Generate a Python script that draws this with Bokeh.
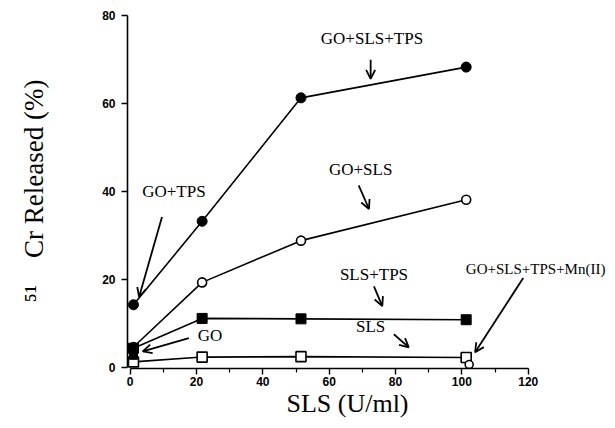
from bokeh.plotting import figure
from bokeh.models import (Range1d, FixedTicker, Label, Arrow, OpenHead, ColumnDataSource)
from bokeh.embed import file_html
from bokeh.resources import INLINE

# ---- data ----
sls_dose = [1, 21.7, 51.5, 101.3]
go_sls_tps = [14.2, 33.2, 61.3, 68.3]
go_sls = [4.6, 19.3, 28.8, 38.1]
sls_tps = [4.3, 11.1, 11.0, 10.8]
sls_only = [1.2, 2.3, 2.4, 2.2]
go_x = [1]
go_y = [2.7]
mn_x = [102.2]
mn_y = [0.6]
x_ticks = [0, 20, 40, 60, 80, 100, 120]
x_minor = [10, 30, 50, 70, 90, 110]
y_ticks = [0, 20, 40, 60, 80]

SERIF = "Liberation Serif"
SANS = "Liberation Sans"

p = figure(width=607, height=420, output_backend="svg", toolbar_location=None,
           x_range=Range1d(-0.8, 143.6), y_range=Range1d(-0.3, 80.5),
           min_border_left=127, min_border_right=1, min_border_top=13,
           min_border_bottom=40)
p.grid.visible = False
p.outline_line_color = None
p.background_fill_color = "white"

for ax in (p.xaxis[0], p.yaxis[0]):
    ax.axis_line_width = 1.6
    ax.axis_line_color = "black"
    ax.major_tick_line_width = 1.4
    ax.minor_tick_line_width = 1.2
    ax.major_tick_out = 6
    ax.major_tick_in = 0
    ax.major_label_text_font = SANS
    ax.major_label_text_font_size = "12px"
    ax.major_label_text_font_style = "bold"
    ax.major_label_text_color = "black"
    ax.axis_label_text_font = SERIF
    ax.axis_label_text_font_style = "normal"
    ax.axis_label_text_color = "black"

p.xaxis.ticker = FixedTicker(ticks=x_ticks, minor_ticks=x_minor)
p.xaxis.bounds = (0, 120)
p.xaxis.minor_tick_out = 4
p.xaxis.minor_tick_in = 0
p.xaxis.major_label_standoff = 2
p.xaxis.axis_label = "SLS (U/ml)" + "\u00a0" * 6
p.xaxis.axis_label_text_font_size = "26px"
p.xaxis.axis_label_standoff = 0

p.yaxis.ticker = FixedTicker(ticks=y_ticks, minor_ticks=[])
p.yaxis.bounds = (0, 80)
p.yaxis.major_label_standoff = 6
p.yaxis.axis_label = "\u2075\u00b9" + "\u00a0" * 4 + "Cr Released (%)"
p.yaxis.axis_label_text_font_size = "27px"
p.yaxis.axis_label_standoff = 50

src = ColumnDataSource(dict(x=sls_dose, a=go_sls_tps, b=go_sls, c=sls_tps, d=sls_only))
LW = 1.6
for col in ("a", "b", "c", "d"):
    p.line("x", col, source=src, line_color="black", line_width=LW)

p.scatter("x", "a", source=src, marker="circle", size=10, fill_color="black", line_color="black")
p.scatter("x", "b", source=src, marker="circle", size=9, fill_color="white", line_color="black", line_width=1.6)
p.scatter("x", "c", source=src, marker="square", size=10, fill_color="black", line_color="black")
p.scatter("x", "d", source=src, marker="square", size=10, fill_color="white", line_color="black", line_width=1.6)
p.scatter(go_x, go_y, marker="square", size=8, fill_color="black", line_color="black")
p.scatter(mn_x, mn_y, marker="circle", size=8, fill_color="white", line_color="black", line_width=1.6)

# ---- annotation texts ----
labels = [
    ("GO+SLS+TPS", 72.9, 74.7, "center", "17px"),
    ("GO+SLS", 69.5, 45.0, "center", "17px"),
    ("GO+TPS", 13.2, 39.9, "center", "17px"),
    ("SLS+TPS", 73.5, 21.2, "center", "17px"),
    ("SLS", 72.5, 9.2, "center", "17px"),
    ("GO", 24.1, 7.2, "center", "17px"),
    ("GO+SLS+TPS+Mn(II)", 101.2, 22.3, "left", "15px"),
]
for t, lx, ly, al, fs in labels:
    p.add_layout(Label(x=lx, y=ly, text=t, text_font=SERIF, text_font_size=fs,
                       text_align=al, text_baseline="middle", text_color="black"))

arrows = [
    (72.5, 70.0, 72.5, 65.6),
    (68.9, 41.4, 72.0, 36.0),
    (9.6, 34.2, 2.7, 16.0),
    (73.5, 18.4, 76.0, 13.9),
    (79.5, 7.5, 84.0, 4.5),
    (17.7, 6.6, 3.8, 3.6),
    (118.5, 20.3, 104.0, 3.4),
]
for xs, ys, xe, ye in arrows:
    p.add_layout(Arrow(x_start=xs, y_start=ys, x_end=xe, y_end=ye, line_width=1.8,
                       line_color="black",
                       end=OpenHead(size=9, line_width=1.8, line_color="black")))

open("out.html", "w").write(file_html(p, INLINE))
